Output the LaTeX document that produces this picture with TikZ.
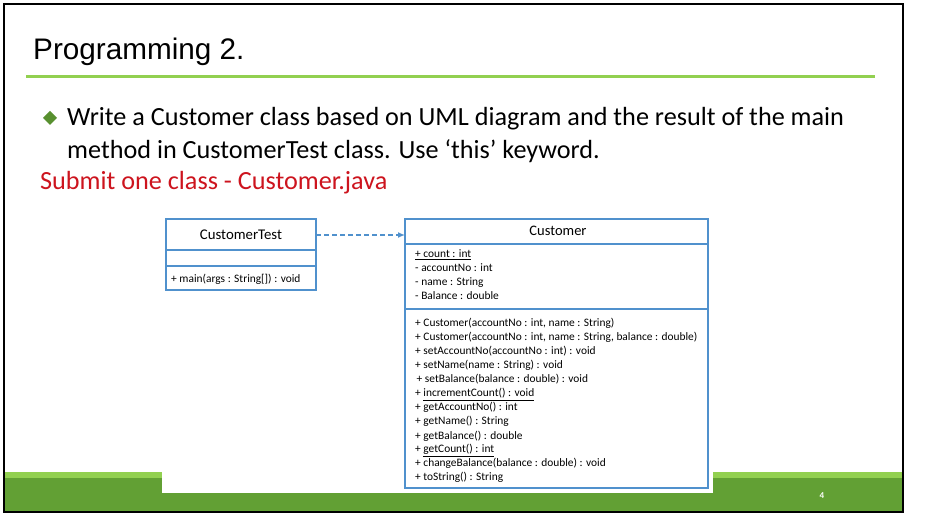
\documentclass[tikz,border=0pt]{standalone}
\usepackage{fontspec}
\setmainfont{Carlito}
\newfontfamily\arialf{Liberation Sans}
\usetikzlibrary{arrows.meta}
\definecolor{lgreen}{RGB}{146,208,80}
\definecolor{dgreen}{RGB}{98,160,52}
\definecolor{umlblue}{RGB}{80,145,205}
\definecolor{redt}{RGB}{205,20,30}
\tikzset{
  ln/.style={anchor=base west,inner sep=0pt,font=\fontsize{11.4}{12}\selectfont},
  umlbox/.style={draw=umlblue,line width=1.3pt},
  big/.style={anchor=base west,inner sep=0pt,font=\fontsize{26.2}{33}\selectfont}
}
\begin{document}
\begin{tikzpicture}[x=1pt,y=-1pt]
\useasboundingbox (0,0) rectangle (940,518);
\fill[white] (0,0) rectangle (940,518);
% footer
\fill[dgreen] (4,472) rectangle (903,511);
\fill[lgreen] (4,472) rectangle (903,478);
\fill[white] (162,465) rectangle (713,493);
\node[text=white,font=\bfseries\fontsize{9}{10}\selectfont] (pg) at (822,496) {4};
\draw[black,line width=1.5pt] (4,4) rectangle (903,512);
% title
\node[anchor=base west,inner sep=0pt,font=\arialf\fontsize{29.7}{33}\selectfont] (title) at (33,60) {Programming 2.};
\draw[lgreen,line width=3pt] (26,77) -- (875,77);
\fill[dgreen!90!black] (50,111) -- (57,118) -- (50,125) -- (43,118) -- cycle;
\node[big] (l1) at (67,126) {Write a Customer class based on UML diagram and the result of the main};
\node[big] (l2) at (67,159) {method in CustomerTest class. Use ‘this’ keyword.};
\node[big,text=redt] (l3) at (40,190) {Submit one class - Customer.java};
% CustomerTest
\draw[umlbox] (166,219) rectangle (316,290);
\draw[umlbox] (166,250) -- (316,250);
\draw[umlbox] (166,266) -- (316,266);
\node[font=\fontsize{14.8}{16}\selectfont] (ct) at (241,235) {CustomerTest};
\node[ln] (ctm) at (171,283) {+ main(args : String[]) : void};
% Customer
\draw[umlbox] (405,219) rectangle (708,488);
\draw[umlbox] (405,244) -- (708,244);
\draw[umlbox] (405,309) -- (708,309);
\node[font=\fontsize{14.5}{16}\selectfont] (c) at (558,231) {Customer};
\coordinate (ctE) at (316,235);
\coordinate (cW) at (405,235);
\draw[umlblue,line width=1.8pt,dash pattern=on 5pt off 3pt,-{Latex[length=7pt,width=6pt]}] (ctE) -- (cW);
\node[ln] (a1) at (415,258) {\underline{+ count : int}};
\node[ln] (a2) at (415,272) {- accountNo : int};
\node[ln] (a3) at (415,286) {- name : String};
\node[ln] (a4) at (415,300) {- Balance : double};
\node[ln] (m1) at (415,327) {+ Customer(accountNo : int, name : String)};
\node[ln] (m2) at (415,341) {+ Customer(accountNo : int, name : String, balance : double)};
\node[ln] (m3) at (415,355) {+ setAccountNo(accountNo : int) : void};
\node[ln] (m4) at (415,369) {+ setName(name : String) : void};
\node[ln] (m5) at (416.5,383) {+ setBalance(balance : double) : void};
\node[ln] (m6) at (415,397) {+ \underline{incrementCount() : void}};
\node[ln] (m7) at (415,411) {+ getAccountNo() : int};
\node[ln] (m8) at (415,425) {+ getName() : String};
\node[ln] (m9) at (415,439) {+ getBalance() : double};
\node[ln] (m10) at (415,453) {+ \underline{getCount() : int}};
\node[ln] (m11) at (415,466) {+ changeBalance(balance : double) : void};
\node[ln] (m12) at (415,480) {+ toString() : String};
\end{tikzpicture}
\end{document}
